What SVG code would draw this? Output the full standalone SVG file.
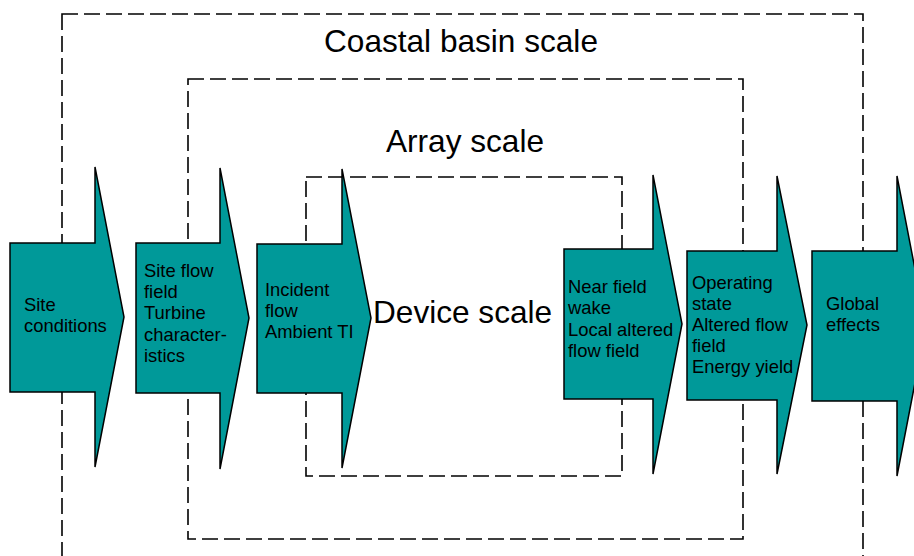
<svg xmlns="http://www.w3.org/2000/svg" width="914" height="556" viewBox="0 0 914 556">
<style>
.box{fill:none;stroke:#000;stroke-width:1.6;stroke-dasharray:16 6}
.arr{fill:#009999;stroke:#000;stroke-width:1.5;stroke-linejoin:miter}
.lbl{font-family:"Liberation Sans",Arial,sans-serif;font-size:18.4px;fill:#000}
.ttl{font-family:"Liberation Sans",Arial,sans-serif;font-size:31.6px;fill:#000}
</style>
<rect width="914" height="556" fill="#fff"/>
<g id="coastal-basin-scale">
<rect class="box" x="62" y="14" width="801" height="560"/>
<text class="ttl" x="324" y="52">Coastal basin scale</text>
</g>
<g id="array-scale">
<rect class="box" x="188" y="79" width="555" height="460"/>
<text class="ttl" x="386" y="152">Array scale</text>
</g>
<g id="device-scale">
<rect class="box" x="306" y="177" width="316" height="299"/>
<text class="ttl" x="373" y="323">Device scale</text>
</g>
<g id="connectors"></g>
<g id="site-conditions">
<polygon class="arr" points="10,243 95,243 95,167 124,317 95,467 95,392 10,392"/>
<text class="lbl"><tspan x="24" y="311">Site</tspan><tspan x="24" y="332">conditions</tspan></text>
</g>
<g id="site-flow-field">
<polygon class="arr" points="136,243 220,243 220,168 249,318 220,469 220,393 136,393"/>
<text class="lbl"><tspan x="144" y="277">Site flow</tspan><tspan x="144" y="298">field</tspan><tspan x="144" y="319">Turbine</tspan><tspan x="144" y="341">character-</tspan><tspan x="144" y="362">istics</tspan></text>
</g>
<g id="incident-flow">
<polygon class="arr" points="257,244 342,244 342,169 371,318 342,468 342,393 257,393"/>
<text class="lbl"><tspan x="265" y="296">Incident</tspan><tspan x="265" y="317">flow</tspan><tspan x="265" y="338">Ambient TI</tspan></text>
</g>
<g id="near-field-wake">
<polygon class="arr" points="564,249 653,249 653,175 682,324 653,474 653,399 564,399"/>
<text class="lbl"><tspan x="568" y="293">Near field</tspan><tspan x="568" y="314">wake</tspan><tspan x="568" y="336">Local altered</tspan><tspan x="568" y="357">flow field</tspan></text>
</g>
<g id="operating-state">
<polygon class="arr" points="687,251 777,251 777,176 807,325 777,474 777,400 687,400"/>
<text class="lbl"><tspan x="692" y="289">Operating</tspan><tspan x="692" y="310">state</tspan><tspan x="692" y="331">Altered flow</tspan><tspan x="692" y="352">field</tspan><tspan x="692" y="373">Energy yield</tspan></text>
</g>
<g id="global-effects">
<polygon class="arr" points="812,251 897,251 897,176 926,326 897,476 897,401 812,401"/>
<text class="lbl"><tspan x="826" y="310">Global</tspan><tspan x="826" y="331">effects</tspan></text>
</g>
</svg>
